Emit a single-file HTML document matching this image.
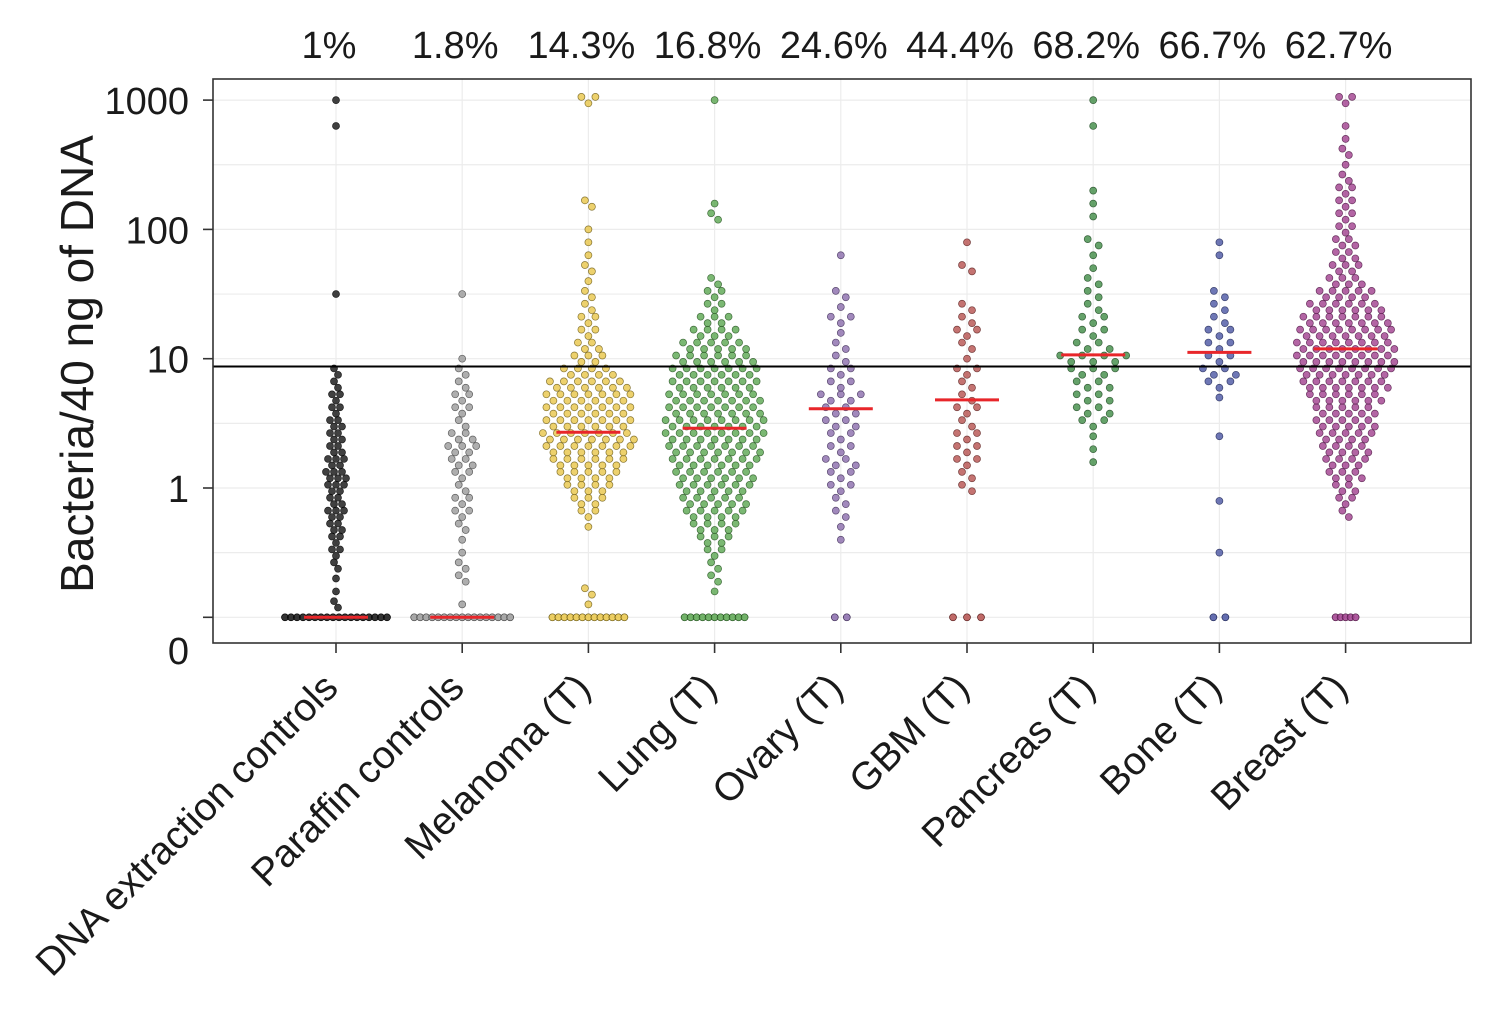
<!DOCTYPE html>
<html><head><meta charset="utf-8"><style>
html,body{margin:0;padding:0;background:#fff;}
svg text{font-family:"Liberation Sans",Arial,sans-serif;fill:#1a1a1a;}
</style></head><body>
<svg id="chart" width="1504" height="1016" viewBox="0 0 1504 1016" xmlns="http://www.w3.org/2000/svg">
<rect x="0" y="0" width="1504" height="1016" fill="#fff"/>
<g id="grid"></g>
<g id="marks"></g>
<g id="axes"></g>
</svg>
<script>
// Data: categories, percentages, per-bin counts (log10 bins from -0.9 to 3.0 step 0.1), zero counts, medians
const categories = ["DNA extraction controls","Paraffin controls","Melanoma (T)","Lung (T)","Ovary (T)","GBM (T)","Pancreas (T)","Bone (T)","Breast (T)"];
const percentLabels = ["1%","1.8%","14.3%","16.8%","24.6%","44.4%","68.2%","66.7%","62.7%"];
const binStart = -0.9;
const binStep = 0.1;
const countsDNA = [2,1,1,2,3,3,4,5,4,5,6,5,4,4,4,3,3,2,2,0,0,0,0,0,1,0,0,0,0,0,0,0,0,0,0,0,0,1,0,1];
const countsParaffin = [1,0,2,2,1,1,2,3,3,2,3,4,5,4,2,3,3,2,2,1,0,0,0,0,1,0,0,0,0,0,0,0,0,0,0,0,0,0,0,0];
const countsMelanoma = [1,2,0,0,0,0,1,3,5,7,9,11,13,14,13,13,13,12,8,5,4,3,3,2,2,1,2,1,1,1,0,2,0,0,0,0,0,0,0,3];
const countsLung = [0,1,2,2,3,5,7,9,10,11,12,13,14,15,15,14,14,13,13,12,10,7,5,3,3,2,0,0,0,0,2,1,0,0,0,0,0,0,0,1];
const countsOvary = [0,0,0,0,0,1,1,2,2,3,3,4,3,3,4,4,5,3,3,2,2,1,3,1,2,0,0,1,0,0,0,0,0,0,0,0,0,0,0,0];
const countsGBM = [0,0,0,0,0,0,0,0,0,2,2,3,3,3,2,3,2,2,3,1,2,3,2,2,0,0,2,0,1,0,0,0,0,0,0,0,0,0,0,0];
const countsPancreas = [0,0,0,0,0,0,0,0,0,0,0,1,1,1,3,4,4,4,5,7,4,3,3,2,2,2,1,1,2,0,1,1,1,0,0,0,0,1,0,1];
const countsBone = [0,0,0,0,1,0,0,0,1,0,0,0,0,1,0,0,1,3,4,3,3,3,2,2,2,0,0,1,1,0,0,0,0,0,0,0,0,0,0,0];
const countsBreast = [0,0,0,0,0,0,0,2,3,4,6,7,8,9,10,10,12,14,15,16,16,15,14,12,9,6,5,4,4,3,3,3,3,2,1,2,1,1,0,3];
const zeroCounts = [18,17,13,11,2,3,0,2,5];
const medians = [0,0,2.7,2.9,4.1,4.8,10.7,11.2,11.9];
const thresholdValue = 8.7;
const yTickValues = [1000,100,10,1,0];
const yTickLabels = ["1000","100","10","1","0"];

const allCounts = [countsDNA,countsParaffin,countsMelanoma,countsLung,countsOvary,countsGBM,countsPancreas,countsBone,countsBreast];
const fills = ["#111111","#9a9a9a","#e9c548","#5aa650","#8a6bab","#b5504e","#3f8b45","#4a55a2","#a03e8d"];
const strokes = ["#000000","#444444","#6b5a14","#24521f","#3e2d56","#5a1f1e","#1c461f","#1f2756","#4e1744"];
const spacing = [4,7,7,7,10,10,11,11,6.5];
const zeroSpacing = [6,6,6,6,12,14,6,12,5];

const PL=213, PR=1471, PT=79, PB=643;
const Y_LOG0 = 488, DEC = 129.3;
function xPos(i){ return 336 + i*126.2; }
function yPos(v){ const lg = v<=0 ? -1 : Math.log10(v); return Y_LOG0 - lg*DEC; }
function yLog(lg){ return Y_LOG0 - lg*DEC; }

const NS="http://www.w3.org/2000/svg";
function mk(tag, attrs, parent){ const e=document.createElementNS(NS,tag); for(const k in attrs) e.setAttribute(k,attrs[k]); parent.appendChild(e); return e; }
const grid=document.getElementById('grid'), marks=document.getElementById('marks'), axes=document.getElementById('axes');

for(let lg=-1; lg<=3.01; lg+=0.5){
  const y=yLog(lg);
  const l=mk('line',{x1:PL,x2:PR,y1:y,y2:y,stroke:'#ececec','stroke-width':1.2},grid);
  
  
}
categories.forEach((c,i)=>{
  const x=xPos(i);
  const l=mk('line',{x1:x,x2:x,y1:PT,y2:PB,stroke:'#ececec','stroke-width':1.2},grid);
  
  
});

categories.forEach((c,i)=>{
  const g=mk('g',{},marks);
  
  
  const cx=xPos(i);
  const counts=allCounts[i];
  counts.forEach((n,b)=>{
    const lg=binStart+b*binStep;
    const yc=yLog(lg);
    for(let j=0;j<n;j++){
      const off=(j-(n-1)/2)*spacing[i];
      const dy=(n>1)?((j%2)?3.2:-3.2):0;
      const p=mk('circle',{cx:cx+off,cy:yc+dy,r:3.5,fill:fills[i],'fill-opacity':0.8,stroke:strokes[i],'stroke-width':0.7,'stroke-opacity':0.8},g);
      
      
    }
  });
  const nz=zeroCounts[i];
  for(let j=0;j<nz;j++){
    const off=(j-(nz-1)/2)*zeroSpacing[i];
    const p=mk('circle',{cx:cx+off,cy:yPos(0),r:3.5,fill:fills[i],'fill-opacity':0.85,stroke:strokes[i],'stroke-width':0.7},g);
    
    
  }
});
medians.forEach((m,i)=>{
  const y=yPos(m), x=xPos(i);
  const l=mk('line',{x1:x-32,x2:x+32,y1:y,y2:y,stroke:'#e8262a','stroke-width':3},marks);
  
  
});
{
  const y=yPos(thresholdValue);
  const l=mk('line',{x1:PL,x2:PR,y1:y,y2:y,stroke:'#000','stroke-width':2},marks);
  
  
}
{
  const r=mk('rect',{x:PL,y:PT,width:PR-PL,height:PB-PT,fill:'none',stroke:'#333','stroke-width':1.6},axes);
  
  
}
yTickValues.forEach((v,k)=>{
  const y=yPos(v);
  const t=mk('line',{x1:PL-10,x2:PL,y1:y,y2:y,stroke:'#333','stroke-width':1.6},axes);
  
  
  const ly = v===0 ? 664 : y+14;
  const tx=mk('text',{x:189,y:ly,'text-anchor':'end','font-size':38},axes);
  tx.textContent=yTickLabels[k];
  
  
});
{
  const t=mk('text',{x:0,y:0,'text-anchor':'middle','font-size':46,transform:'translate(93,364) rotate(-90)'},axes);
  t.textContent='Bacteria/40 ng of DNA';
  
  
}
categories.forEach((c,i)=>{
  const x=xPos(i);
  const t=mk('line',{x1:x,x2:x,y1:PB,y2:PB+10,stroke:'#333','stroke-width':1.6},axes);
  
  
  const lb=mk('text',{x:0,y:0,'text-anchor':'end','font-size':39,transform:`translate(${x+4},${690}) rotate(-45)`},axes);
  lb.textContent=c;
  
  
  const pc=mk('text',{x:x-7,y:58,'text-anchor':'middle','font-size':38},axes);
  pc.textContent=percentLabels[i];
  
  
});
</script>
</body></html>
